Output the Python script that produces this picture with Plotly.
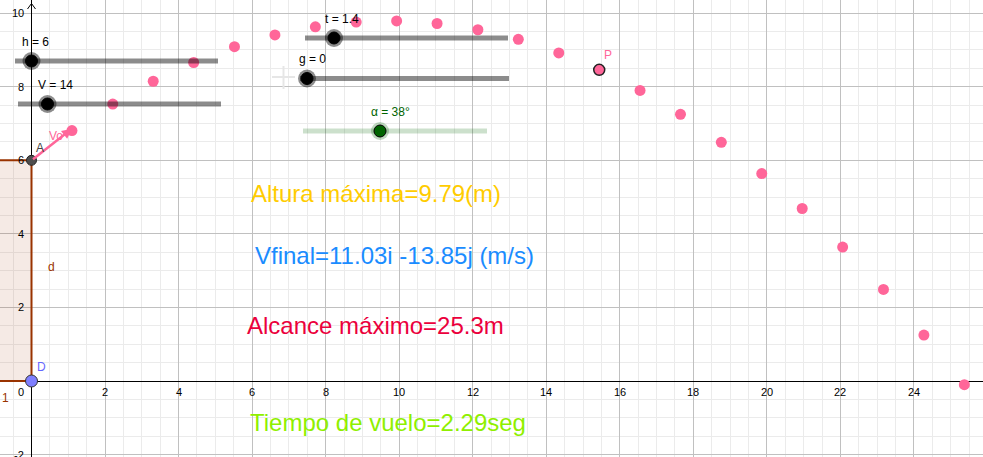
import plotly.graph_objects as go

# ---------------- data ----------------
traj_x = [1.10, 2.21, 3.31, 4.41, 5.52, 6.62, 7.72, 8.83, 9.93, 11.03, 12.14,
          13.24, 14.34, 16.55, 17.65, 18.76, 19.86, 20.96, 22.06, 23.17, 24.27, 25.37]
traj_y = [6.81, 7.53, 8.15, 8.66, 9.09, 9.41, 9.63, 9.76, 9.79, 9.72, 9.55,
          9.29, 8.92, 7.90, 7.25, 6.49, 5.64, 4.69, 3.64, 2.49, 1.25, -0.10]
point_P = (15.44, 8.46)
point_A = (0.0, 6.0)
point_D = (0.0, 0.0)
vector_Vo_end = (1.10, 6.86)
wall_x = [-3.0, 0.0, 0.0, -3.0, -3.0]
wall_y = [0.0, 0.0, 6.0, 6.0, 0.0]

x_tick_vals = [0, 2, 4, 6, 8, 10, 12, 14, 16, 18, 20, 22, 24]
y_tick_vals = [-2, 2, 4, 6, 8, 10]

slider_labels = ["h = 6", "V = 14", "t = 1.4", "g = 0", "α = 38°"]
info_texts = ["Altura máxima=9.79(m)", "Vfinal=11.03i -13.85j (m/s)",
              "Alcance máximo=25.3m", "Tiempo de vuelo=2.29seg"]
info_colors = ["#ffcc00", "#1a8cff", "#eb003c", "#8fef00"]

# ---------------- view geometry ----------------
W, H = 983, 457
X0PX, Y0PX = 31.5, 381.0      # pixel position of origin
PXU, PYU = 36.77, 36.78       # pixels per unit
x_range = [-X0PX / PXU, (W - X0PX) / PXU]
y_range = [-(H - Y0PX) / PYU, Y0PX / PYU]


def px(x):
    return x / W


def py(y):
    return 1 - y / H


FONT = "Liberation Sans, Arial, sans-serif"
PINK = "#ff6699"
BROWN = "#993300"

fig = go.Figure()

# wall polygon (drawn as a trace so its edge sits above the axis line)
fig.add_trace(go.Scatter(x=wall_x, y=wall_y, mode="lines", fill="toself",
                         fillcolor="rgba(153,51,0,0.10)",
                         line=dict(color=BROWN, width=2),
                         hoverinfo="skip", showlegend=False))
# trajectory dots
fig.add_trace(go.Scatter(x=traj_x, y=traj_y, mode="markers",
                         marker=dict(size=11, color=PINK, line=dict(width=0)),
                         hoverinfo="skip", showlegend=False))
# point P
fig.add_trace(go.Scatter(x=[point_P[0]], y=[point_P[1]], mode="markers",
                         marker=dict(size=11, color=PINK, line=dict(width=1.5, color="#222")),
                         hoverinfo="skip", showlegend=False))
# point A
fig.add_trace(go.Scatter(x=[point_A[0]], y=[point_A[1]], mode="markers",
                         marker=dict(size=10, color="#4d4d4d", line=dict(width=1, color="#222")),
                         hoverinfo="skip", showlegend=False))
# point D
fig.add_trace(go.Scatter(x=[point_D[0]], y=[point_D[1]], mode="markers",
                         marker=dict(size=12, color="#7f7fff", line=dict(width=1, color="#333")),
                         hoverinfo="skip", showlegend=False))

shapes = []
# y-axis arrow head
shapes.append(dict(type="path", xref="paper", yref="paper",
                   path=f"M {px(27.5)},{py(9)} L {px(31.5)},{py(3.5)} L {px(35.5)},{py(9)}",
                   line=dict(color="black", width=1)))
# faint plus sign
shapes.append(dict(type="line", xref="paper", yref="paper", x0=px(272), x1=px(295),
                   y0=py(77), y1=py(77), line=dict(color="#e6e6e6", width=2)))
shapes.append(dict(type="line", xref="paper", yref="paper", x0=px(283.5), x1=px(283.5),
                   y0=py(66), y1=py(89), line=dict(color="#e6e6e6", width=2)))

# sliders: (x_start, x_end, y, knob_x) in pixels
slider_geom = [(15, 218, 61, 31.5), (18, 221, 104, 47.5), (305, 508, 38, 334),
               (300, 509, 78.5, 307), (303, 487, 131, 380)]
label_geom = [(20, 42), (36, 85), (323, 19), (297, 59), (369, 112)]
for i, (xs, xe, yy, kx) in enumerate(slider_geom):
    green = i == 4
    shapes.append(dict(type="line", xref="paper", yref="paper",
                       x0=px(xs), x1=px(xe), y0=py(yy), y1=py(yy),
                       line=dict(color="rgba(0,100,0,0.2)" if green else "rgba(0,0,0,0.45)",
                                 width=5)))
    shapes.append(dict(type="circle", xref="paper", yref="paper",
                       xsizemode="pixel", ysizemode="pixel", xanchor=px(kx), yanchor=py(yy),
                       x0=-9, x1=9, y0=-9, y1=9,
                       fillcolor="rgba(0,100,0,0.25)" if green else "rgba(0,0,0,0.45)",
                       line=dict(width=0)))
    shapes.append(dict(type="circle", xref="paper", yref="paper",
                       xsizemode="pixel", ysizemode="pixel", xanchor=px(kx), yanchor=py(yy),
                       x0=-6, x1=6, y0=-6, y1=6,
                       fillcolor="#006400" if green else "#000000",
                       line=dict(width=1, color="#000")))

annotations = []
# vector Vo
annotations.append(dict(x=vector_Vo_end[0], y=vector_Vo_end[1], ax=point_A[0], ay=point_A[1],
                        xref="x", yref="y", axref="x", ayref="y", text="",
                        showarrow=True, arrowhead=2, arrowsize=0.8, arrowwidth=2.5,
                        arrowcolor=PINK))
# tick labels
for v in x_tick_vals:
    if v == 0:
        annotations.append(dict(x=0, y=0, xref="x", yref="y", text="0", showarrow=False,
                                xanchor="right", yanchor="middle", xshift=-6, yshift=-11,
                                font=dict(family=FONT, size=11, color="#000")))
    else:
        annotations.append(dict(x=v, y=0, xref="x", yref="y", text=str(v), showarrow=False,
                                xanchor="center", yanchor="middle", yshift=-11,
                                font=dict(family=FONT, size=11, color="#000")))
for v in y_tick_vals:
    annotations.append(dict(x=0, y=v, xref="x", yref="y", text=str(v), showarrow=False,
                            xanchor="right", yanchor="middle", xshift=-6,
                            font=dict(family=FONT, size=11, color="#000")))
# slider labels
for (lx, ly), txt, i in zip(label_geom, slider_labels, range(5)):
    annotations.append(dict(x=px(lx), y=py(ly), xref="paper", yref="paper", text=txt,
                            showarrow=False, xanchor="left", yanchor="middle",
                            font=dict(family=FONT, size=12,
                                      color="#006400" if i == 4 else "#000")))
# object labels
obj_labels = [("A", 34, 148, "#444444"), ("D", 35, 367, "#6666ff"), ("P", 602, 55, PINK),
              ("Vo", 47, 136, PINK), ("d", 46, 267, BROWN), ("1", 0, 398, BROWN)]
for txt, lx, ly, col in obj_labels:
    annotations.append(dict(x=px(lx), y=py(ly), xref="paper", yref="paper", text=txt,
                            showarrow=False, xanchor="left", yanchor="middle",
                            font=dict(family=FONT, size=12, color=col)))
# info texts
info_pos = [(249, 193), (253, 255), (245, 325), (248, 422)]
for (tx, ty), txt, col in zip(info_pos, info_texts, info_colors):
    annotations.append(dict(x=px(tx), y=py(ty), xref="paper", yref="paper", text=txt,
                            showarrow=False, xanchor="left", yanchor="middle",
                            font=dict(family=FONT, size=24, color=col)))

axis_common = dict(showticklabels=False, ticks="", showline=False, zeroline=True,
                   zerolinecolor="#000", zerolinewidth=1.3, showgrid=True,
                   gridcolor="#c0c0c0", gridwidth=1, dtick=2, tick0=0,
                   minor=dict(dtick=0.5, tick0=0, showgrid=True, gridcolor="#ebebeb",
                              gridwidth=1),
                   fixedrange=True)
fig.update_layout(
    width=W, height=H, autosize=False,
    margin=dict(l=0, r=0, t=0, b=0),
    paper_bgcolor="white", plot_bgcolor="white",
    xaxis=dict(range=x_range, **axis_common),
    yaxis=dict(range=y_range, **axis_common),
    shapes=shapes, annotations=annotations, showlegend=False,
)
fig.write_html("out.html", config={"displayModeBar": False},
               post_script="document.body.style.margin='0';document.body.style.overflow='hidden';")
